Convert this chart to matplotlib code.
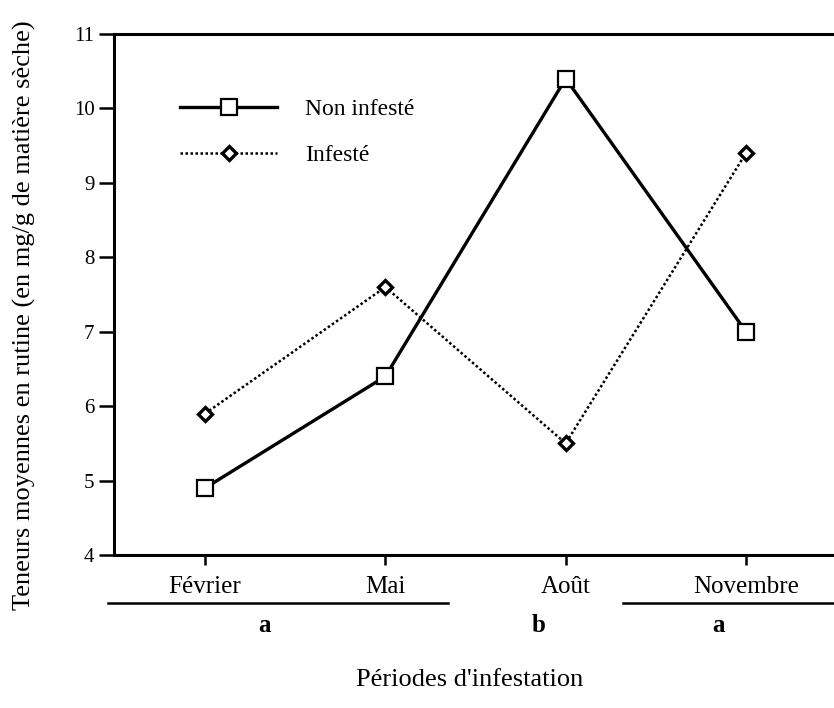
import matplotlib

matplotlib.use("Agg")
import matplotlib.pyplot as plt
import matplotlib.transforms as mtransforms

# data
periods = ["Février", "Mai", "Août", "Novembre"]
non_infeste = [4.9, 6.4, 10.4, 7.0]
infeste = [5.9, 7.6, 5.5, 9.4]
yticks = [4, 5, 6, 7, 8, 9, 10, 11]

# groups of the statistical test (letters under the month names)
group_letters = ["a", "b", "a"]
group_letter_x = [1.33, 2.85, 3.85]
group_spans = [(0.46, 2.35), (3.32, 4.49)]

plt.rcParams["font.family"] = ["Liberation Serif", "DejaVu Serif"]

fig = plt.figure(figsize=(8.34, 7.08), dpi=100)
ax = fig.add_axes([0.1367, 0.2161, 0.8633, 0.7359])

x = list(range(1, len(periods) + 1))
ax.plot(x, non_infeste, color="black", lw=2.4, marker="s", markersize=12,
        markerfacecolor="white", markeredgecolor="black", markeredgewidth=1.6,
        label="Non infesté")
ax.plot(x, infeste, color="black", lw=1.8, linestyle=(0, (1, 1)), marker="D",
        markersize=7.5, markerfacecolor="white", markeredgecolor="black",
        markeredgewidth=2.4, label="Infesté")

ax.set_xlim(0.495, 4.488)
ax.set_ylim(4, 11)
ax.set_yticks(yticks)
ax.set_xticks(x)
ax.set_xticklabels(periods, fontsize=18)
ax.tick_params(axis="y", direction="out", length=11, width=1.8, labelsize=15, pad=3)
ax.tick_params(axis="x", direction="out", length=7, width=1.8, pad=8)

for side in ["left", "bottom", "top"]:
    ax.spines[side].set_linewidth(2.2)
ax.spines["right"].set_visible(False)

ax.set_ylabel("Teneurs moyennes en rutine (en mg/g de matière sèche)", fontsize=19)
ax.yaxis.label.set_va("center")
ax.yaxis.set_label_coords(-0.124, 0.46)
fig.text(0.563, 0.04, "Périodes d'infestation", fontsize=19, ha="center", va="center")

ax.legend(loc="upper left", bbox_to_anchor=(0.092, 0.876), frameon=False,
          borderpad=0, borderaxespad=0, fontsize=17, handlelength=4.1,
          handletextpad=1.2, labelspacing=1.05)

# group lines and letters below the month labels
trans = mtransforms.blended_transform_factory(ax.transData, ax.transAxes)
for x0, x1 in group_spans:
    ax.plot([x0, x1], [-0.092, -0.092], color="black", lw=1.8,
            transform=trans, clip_on=False)
for gx, letter in zip(group_letter_x, group_letters):
    ax.text(gx, -0.135, letter, transform=trans, fontsize=18, fontweight="bold",
            ha="center", va="center")

plt.savefig("out.png", dpi=100)
plt.close()
